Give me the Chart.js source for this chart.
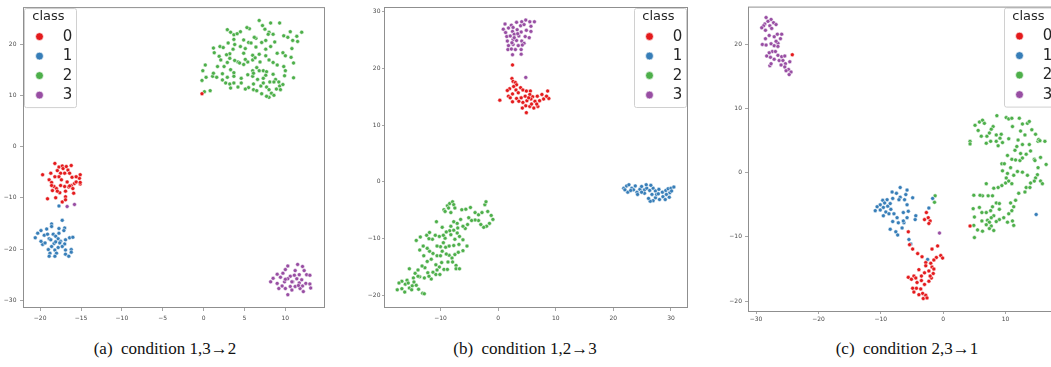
<!DOCTYPE html>
<html>
<head>
<meta charset="utf-8">
<script src="https://cdn.jsdelivr.net/npm/chart.js@4.4.1/dist/chart.umd.min.js"></script>
<style>
  html, body { margin: 0; padding: 0; background: #fff; }
  body { position: relative; width: 1051px; height: 367px; overflow: hidden; }
  canvas { position: absolute; top: 0; }
  #ca { left: 0px; }
  #cb { left: 356px; }
  #cc { left: 716px; }
  .cap { position: absolute; top: 339px; transform: translateX(-50%); white-space: pre;
         font-family: "Liberation Serif", "Times New Roman", serif; font-size: 17px; color: #111; }
</style>
</head>
<body>
<canvas id="ca" width="330" height="330"></canvas>
<canvas id="cb" width="340" height="330"></canvas>
<canvas id="cc" width="350" height="330"></canvas>
<div class="cap" style="left:165px">(a)  condition 1,3→2</div>
<div class="cap" style="left:525px">(b)  condition 1,2→3</div>
<div class="cap" style="left:907px">(c)  condition 2,3→1</div>
<script>
const classes = ['0', '1', '2', '3'];
const colors = ['#e41a1c', '#377eb8', '#4daf4a', '#984ea3'];

// (a) condition 1,3 -> 2
const aXTicks = [-20, -15, -10, -5, 0, 5, 10];
const aYTicks = [-30, -20, -10, 0, 10, 20];
const aClass0 = [[-18.2,-3.3],[-17.7,-4.0],[-17.3,-3.8],[-17.9,-4.7],[-17.2,-4.3],[-16.8,-3.9],[-16.2,-3.7],[-16.6,-4.6],[-16.4,-5.2],[-17.5,-5.2],[-17.0,-5.2],[-17.7,-5.9],[-18.7,-5.2],[-19.7,-5.5],[-18.9,-6.5],[-18.6,-7.0],[-18.3,-7.8],[-18.0,-8.2],[-17.5,-7.6],[-17.0,-7.8],[-16.5,-7.9],[-16.2,-7.6],[-15.8,-7.2],[-15.1,-5.5],[-15.2,-6.2],[-15.6,-6.9],[-15.1,-7.3],[-16.7,-6.9],[-17.6,-9.0],[-16.9,-8.7],[-18.5,-8.6],[-17.9,-8.7],[-19.1,-10.2],[-18.1,-10.0],[-17.3,-10.8],[-16.9,-9.8],[-16.9,-10.4],[-15.9,-9.1],[-16.4,-7.7],[-15.1,-7.0],[-18.6,-7.6],[-18.2,-5.9],[-17.4,-6.5],[-16.1,-6.0],[-15.6,-5.9],[-16.0,-8.2],[-0.2,10.3]];
const aClass1 = [[-17.7,-11.6],[-17.3,-14.4],[-18.6,-15.1],[-18.6,-15.6],[-17.7,-16.0],[-17.0,-15.9],[-17.1,-16.4],[-19.9,-16.4],[-20.3,-16.9],[-20.6,-17.8],[-19.5,-17.3],[-19.1,-17.1],[-18.4,-17.1],[-18.1,-17.5],[-17.7,-16.9],[-18.9,-18.0],[-18.7,-18.2],[-17.8,-18.0],[-17.5,-18.5],[-16.4,-17.8],[-16.0,-17.7],[-19.6,-18.9],[-19.7,-19.1],[-19.4,-18.8],[-18.3,-18.9],[-18.1,-18.6],[-17.6,-18.8],[-16.9,-18.2],[-17.0,-19.0],[-19.0,-20.1],[-18.8,-20.8],[-18.9,-21.4],[-18.2,-20.2],[-18.0,-20.8],[-18.2,-21.4],[-16.9,-20.2],[-16.9,-21.0],[-16.5,-21.4],[-16.2,-20.1],[-16.2,-20.6],[-19.9,-18.5],[-19.2,-16.1],[-17.3,-19.5],[-18.6,-19.5],[-17.8,-19.7]];
const aClass2 = [[6.8,24.6],[8.2,24.1],[9.3,24.1],[7.2,23.6],[2.9,22.8],[3.3,22.3],[5.6,23.0],[4.5,22.4],[5.3,23.2],[3.7,21.8],[4.1,22.0],[10.6,22.4],[12.0,22.3],[11.4,21.5],[9.8,21.6],[10.3,21.3],[10.9,20.7],[11.5,20.5],[8.0,22.3],[8.5,21.9],[7.6,20.7],[8.7,20.4],[3.7,20.9],[4.9,20.8],[5.5,20.3],[6.4,19.4],[5.8,20.2],[1.2,19.2],[2.0,19.5],[2.4,19.3],[3.0,20.2],[3.2,18.1],[2.8,17.9],[4.5,19.5],[5.1,19.1],[3.8,19.9],[7.6,19.0],[9.0,18.2],[9.7,18.3],[10.8,19.1],[1.3,18.3],[1.9,17.6],[3.2,17.2],[4.2,16.5],[4.4,16.3],[5.4,16.5],[5.1,17.0],[2.1,16.9],[2.9,16.4],[1.7,15.6],[2.5,15.6],[3.3,15.0],[0.2,15.9],[-0.1,14.8],[0.3,13.5],[-0.2,12.9],[1.1,13.7],[1.6,13.5],[2.3,13.0],[2.7,12.4],[3.2,12.2],[3.7,12.4],[3.3,11.4],[4.6,13.3],[5.4,14.0],[6.5,15.4],[6.8,14.8],[7.3,14.8],[7.7,14.6],[7.6,13.9],[8.5,14.1],[8.1,12.6],[8.8,13.1],[9.8,15.6],[10.0,14.8],[9.9,13.8],[11.0,13.4],[9.3,11.8],[9.7,12.1],[9.4,11.1],[8.9,11.2],[6.0,13.7],[6.6,13.1],[7.3,13.3],[6.1,12.2],[5.5,11.5],[5.1,11.2],[6.1,11.1],[7.0,11.8],[7.7,11.6],[8.0,11.1],[8.3,10.4],[8.6,10.0],[8.0,9.6],[7.7,9.8],[7.1,10.3],[6.5,10.9],[4.6,12.4],[4.2,11.6],[0.8,10.9],[0.1,10.7],[3.7,14.4],[4.9,16.0],[6.0,16.9],[6.9,16.5],[8.5,16.4],[9.0,15.9],[10.0,17.7],[10.7,17.4],[11.0,16.3],[6.4,21.1],[7.1,20.3],[4.9,18.2],[6.0,17.8],[6.3,17.3],[7.6,17.7],[8.0,16.9],[6.8,18.0],[1.2,14.3],[2.3,14.2],[2.9,13.5],[3.7,13.7],[6.0,14.8],[6.1,14.3],[7.3,12.4],[8.6,12.6],[9.2,12.6],[3.8,16.8],[6.2,21.3],[7.5,22.9],[7.9,21.9],[3.6,19.0],[8.2,19.5]];
const aClass3 = [[-16.7,-11.7],[-15.8,-11.3],[11.5,-23.0],[10.3,-23.3],[12.1,-23.4],[12.3,-24.2],[10.0,-24.0],[9.0,-24.9],[9.7,-24.7],[11.2,-24.2],[11.7,-25.0],[12.6,-25.0],[13.0,-25.1],[10.6,-25.3],[9.4,-25.5],[10.3,-25.8],[11.4,-25.8],[12.0,-26.0],[8.2,-26.4],[9.0,-26.7],[9.9,-26.4],[10.9,-26.4],[11.7,-26.6],[12.5,-26.7],[9.6,-27.2],[10.6,-27.3],[11.2,-27.3],[12.1,-27.2],[13.0,-26.8],[9.2,-27.7],[10.0,-27.7],[10.8,-28.0],[11.8,-27.7],[12.2,-28.3],[10.3,-28.9],[13.1,-27.6],[8.5,-25.7],[10.8,-26.4],[11.6,-27.1],[10.0,-25.9],[11.1,-25.1]];

// (b) condition 1,2 -> 3
const bXTicks = [-10, 0, 10, 20, 30];
const bYTicks = [-20, -10, 0, 10, 20, 30];
const bClass0 = [[2.5,20.6],[2.4,18.2],[2.6,17.7],[3.0,17.5],[3.2,17.1],[2.7,16.8],[2.0,16.4],[3.1,16.2],[3.9,16.6],[4.3,16.2],[4.9,16.0],[5.6,16.0],[3.5,15.7],[2.5,15.5],[1.8,15.1],[0.3,14.4],[2.1,14.8],[3.2,14.7],[4.0,14.8],[4.7,15.1],[5.5,15.4],[6.0,15.0],[6.8,15.1],[7.6,15.4],[8.6,16.0],[8.8,14.7],[7.9,14.6],[7.2,14.3],[6.4,14.2],[5.7,14.6],[5.0,14.3],[4.3,14.0],[3.6,14.2],[2.5,14.1],[4.8,13.4],[5.5,13.3],[6.2,13.0],[6.9,13.3],[4.9,12.2],[4.2,13.0],[5.8,13.7],[6.7,13.7],[8.4,15.1],[1.6,16.1],[5.3,14.8]];
const bClass1 = [[21.8,-1.1],[22.3,-0.7],[22.7,-0.5],[23.2,-1.1],[23.5,-1.4],[22.5,-1.8],[22.0,-1.4],[24.1,-1.8],[24.6,-1.3],[24.9,-0.8],[25.4,-1.4],[25.8,-1.1],[26.3,-1.5],[26.9,-1.1],[27.3,-1.6],[27.9,-1.3],[28.5,-1.8],[29.1,-1.5],[29.5,-1.2],[30.0,-1.1],[30.5,-0.9],[29.8,-1.9],[29.2,-2.2],[28.6,-2.6],[28.0,-3.1],[27.3,-2.8],[26.9,-3.3],[26.4,-3.4],[26.1,-2.9],[26.7,-2.2],[27.5,-2.2],[25.4,-2.0],[24.9,-1.8],[24.2,-2.2],[23.0,-1.5],[23.8,-0.7],[25.7,-0.5],[26.5,-0.6],[29.7,-2.7],[29.0,-3.1],[30.1,-1.6],[27.8,-2.1]];
const bClass2 = [[-9.4,-4.9],[-8.8,-4.2],[-8.4,-3.8],[-7.9,-3.5],[-7.7,-4.0],[-8.6,-4.6],[-9.2,-5.2],[-7.5,-4.6],[-8.2,-5.4],[-6.3,-4.9],[-5.6,-4.8],[-4.8,-4.5],[-4.0,-5.4],[-3.4,-5.8],[-2.8,-5.4],[-2.3,-4.0],[-2.1,-3.5],[-1.8,-5.2],[-1.2,-5.9],[-0.9,-6.6],[-1.5,-7.3],[-2.0,-7.8],[-2.5,-8.0],[-3.0,-7.5],[-3.4,-6.8],[-4.0,-6.7],[-4.6,-6.8],[-5.1,-6.3],[-5.3,-7.5],[-5.7,-8.2],[-6.5,-6.6],[-7.1,-7.3],[-7.7,-7.0],[-8.2,-7.8],[-8.4,-8.6],[-7.7,-8.5],[-7.1,-9.0],[-6.7,-9.6],[-7.5,-10.1],[-8.2,-9.3],[-9.0,-8.8],[-9.7,-8.0],[-10.7,-7.0],[-10.2,-9.6],[-10.9,-9.4],[-11.4,-10.1],[-9.2,-9.9],[-9.5,-10.7],[-10.0,-11.4],[-9.1,-11.5],[-8.5,-11.3],[-7.7,-11.2],[-6.8,-11.0],[-6.1,-10.2],[-5.4,-11.3],[-6.1,-12.1],[-6.9,-12.4],[-7.5,-12.8],[-8.0,-13.4],[-8.5,-12.9],[-8.7,-14.1],[-7.9,-14.1],[-7.3,-14.7],[-7.3,-15.3],[-6.7,-15.3],[-9.0,-12.7],[-9.7,-12.2],[-10.6,-13.0],[-11.3,-12.6],[-11.9,-12.2],[-12.3,-11.7],[-13.0,-11.3],[-13.6,-12.0],[-14.2,-10.3],[-13.5,-9.7],[-12.4,-9.4],[-11.9,-8.9],[-12.0,-10.0],[-12.9,-13.0],[-12.3,-14.0],[-11.6,-13.6],[-10.8,-14.6],[-10.2,-15.0],[-9.8,-14.2],[-10.6,-15.5],[-11.3,-15.9],[-12.2,-16.0],[-12.7,-15.1],[-13.2,-14.8],[-13.9,-15.5],[-13.6,-16.7],[-12.8,-16.9],[-14.4,-16.1],[-14.7,-16.9],[-15.4,-15.3],[-15.8,-17.3],[-16.1,-18.0],[-16.7,-17.5],[-17.2,-17.8],[-17.5,-19.0],[-16.7,-18.8],[-16.2,-19.4],[-15.4,-18.7],[-14.9,-18.3],[-14.2,-18.2],[-13.8,-18.9],[-15.0,-19.0],[-15.6,-17.8],[-14.6,-17.6],[-13.1,-19.6],[-12.8,-19.7],[-13.9,-16.6],[-11.6,-17.1],[-10.8,-16.3],[-10.1,-16.3],[-9.4,-15.4],[-8.8,-15.4],[-12.0,-16.6],[-10.0,-13.0],[-10.6,-11.3],[-9.5,-9.4],[-7.0,-8.1],[-6.1,-7.8]];
const bClass3 = [[1.2,27.8],[2.3,27.6],[3.2,28.1],[4.1,28.2],[4.8,28.5],[5.5,28.2],[6.3,28.2],[0.9,26.9],[1.8,27.1],[2.6,27.2],[3.9,27.5],[4.5,27.7],[5.7,27.4],[1.3,26.3],[2.5,26.5],[3.3,26.8],[4.0,26.4],[4.9,26.7],[5.7,26.5],[1.5,25.6],[2.1,25.7],[2.8,26.0],[3.6,25.7],[4.7,25.6],[5.4,25.4],[1.6,24.8],[2.6,25.1],[3.2,24.9],[4.1,24.8],[4.5,24.4],[1.8,24.0],[2.6,24.2],[3.5,24.0],[4.2,24.1],[1.7,23.3],[2.3,23.4],[3.0,23.3],[4.0,23.3],[2.5,22.4],[4.0,22.5],[2.8,25.4],[3.4,26.1],[2.4,24.5],[4.8,18.4]];

// (c) condition 2,3 -> 1
const cXTicks = [-30, -20, -10, 0, 10];
const cYTicks = [-20, -10, 0, 10, 20];
const cClass0 = [[-24.2,18.4],[4.3,-8.3],[-2.7,-6.2],[-2.4,-7.0],[-3.0,-7.3],[-2.1,-7.5],[-2.3,-7.9],[-5.6,-9.2],[-5.4,-11.2],[-4.9,-11.9],[-4.1,-12.6],[-3.4,-13.1],[-1.8,-11.9],[-0.9,-11.4],[-0.4,-12.9],[-0.1,-13.3],[-1.1,-13.2],[-1.5,-13.6],[-2.0,-14.1],[-2.8,-14.0],[-1.8,-14.7],[-1.5,-15.0],[-2.3,-15.3],[-2.8,-14.5],[-3.0,-15.6],[-3.5,-16.1],[-3.9,-15.1],[-4.7,-16.1],[-4.4,-16.4],[-5.6,-16.3],[-5.1,-16.6],[-4.2,-17.1],[-4.3,-18.0],[-3.6,-18.1],[-3.3,-18.8],[-3.9,-19.0],[-3.2,-19.6],[-2.8,-19.1],[-2.6,-19.5],[-3.0,-17.4],[-2.3,-16.9],[-1.9,-16.4],[-1.6,-15.7],[-2.1,-16.1],[-3.5,-16.8],[-4.9,-18.0],[-4.7,-18.6]];
const cClass1 = [[-6.9,-2.3],[-5.8,-2.7],[-8.2,-3.0],[-7.5,-3.2],[-6.0,-3.4],[-6.9,-3.8],[-4.9,-3.9],[-9.7,-4.3],[-9.0,-4.2],[-8.1,-4.0],[-7.1,-4.2],[-6.2,-4.2],[-5.8,-5.0],[-9.4,-4.7],[-10.1,-5.0],[-10.6,-5.3],[-10.9,-5.9],[-9.6,-5.4],[-8.9,-5.2],[-8.5,-4.8],[-10.1,-5.8],[-9.2,-6.1],[-9.6,-6.7],[-8.7,-6.4],[-7.9,-6.4],[-6.4,-6.2],[-5.6,-6.0],[-4.4,-6.7],[-4.5,-7.3],[-7.4,-7.0],[-8.1,-7.6],[-7.2,-7.8],[-6.3,-7.8],[-6.6,-8.6],[-8.5,-8.8],[-7.6,-9.2],[-7.3,-9.7],[-5.8,-7.0],[-2.3,-5.5],[-1.7,-4.0],[-8.4,-5.7],[-6.4,-7.5],[-5.5,-10.4],[-5.2,-11.1],[-2.5,-13.5],[14.9,-6.5]];
const cClass2 = [[-1.3,-3.6],[-1.4,-4.6],[4.3,4.9],[4.3,4.5],[5.1,7.4],[5.8,7.9],[6.3,8.2],[6.6,7.7],[5.6,6.6],[6.1,5.7],[7.0,5.7],[7.4,6.2],[8.0,7.2],[8.6,8.9],[7.7,6.8],[8.5,5.9],[9.3,6.0],[9.1,5.4],[8.5,4.9],[8.8,4.2],[9.5,4.7],[10.1,8.6],[10.5,8.4],[11.0,8.5],[12.2,8.5],[12.7,7.6],[13.5,7.7],[13.8,8.0],[12.4,6.5],[13.1,5.9],[14.2,6.7],[14.8,6.0],[15.2,4.9],[16.3,4.9],[15.3,5.2],[13.8,4.4],[12.7,4.4],[11.8,4.1],[11.5,3.5],[12.4,3.0],[13.3,2.9],[14.0,3.4],[14.6,2.1],[15.6,2.4],[15.2,0.8],[15.1,-0.3],[14.8,-0.8],[14.6,-1.3],[14.0,-1.6],[15.6,-1.3],[15.9,-1.7],[13.5,-0.4],[12.7,0.1],[11.9,0.2],[11.3,-0.4],[10.3,-0.1],[9.4,1.4],[9.8,1.4],[11.0,2.1],[11.6,2.0],[12.3,1.9],[12.7,2.3],[10.8,0.8],[10.1,-0.8],[9.4,-2.0],[10.0,-1.6],[10.5,-1.3],[11.0,-1.7],[13.1,-3.0],[13.3,-2.3],[12.1,-3.2],[11.6,-4.3],[10.8,-4.7],[11.3,-5.3],[11.0,-5.9],[10.5,-6.4],[10.3,-7.7],[11.1,-7.5],[11.3,-8.2],[9.7,-7.0],[9.0,-7.3],[8.5,-7.6],[7.7,-8.3],[8.1,-9.0],[7.4,-8.7],[6.3,-9.1],[5.5,-8.9],[4.9,-8.2],[5.0,-6.9],[4.8,-5.6],[5.8,-5.4],[6.2,-6.2],[6.9,-6.2],[7.6,-5.9],[7.9,-5.3],[8.5,-4.7],[9.0,-4.8],[9.0,-5.7],[8.1,-6.7],[7.1,-7.4],[6.2,-7.5],[7.2,-3.6],[7.9,-3.6],[8.1,-2.4],[8.8,-2.3],[5.0,-10.1],[6.9,-1.7],[6.3,-3.6],[5.9,-3.5],[4.9,-3.5],[7.7,-7.0],[7.4,-7.7],[6.9,-8.1],[9.5,0.3],[10.3,2.7],[11.1,7.2],[12.0,5.1],[10.5,5.3],[13.9,-2.3],[14.7,1.9],[15.5,5.0],[7.6,4.9],[6.9,4.6],[16.5,1.3]];
const cClass3 = [[-27.6,23.9],[-28.1,23.6],[-28.6,23.2],[-28.8,22.9],[-27.2,23.4],[-27.8,22.9],[-26.8,23.1],[-28.5,22.2],[-27.5,22.5],[-26.6,21.6],[-25.9,21.6],[-26.1,20.9],[-27.1,21.2],[-27.9,21.4],[-28.5,20.9],[-29.0,20.0],[-28.4,19.9],[-27.6,20.1],[-27.1,19.8],[-26.5,20.2],[-27.4,18.9],[-27.9,18.7],[-28.3,18.2],[-27.7,18.0],[-26.9,18.9],[-26.5,18.3],[-25.9,18.1],[-25.4,18.2],[-26.3,17.5],[-25.7,17.5],[-25.3,17.0],[-24.6,17.3],[-26.0,16.8],[-25.4,16.5],[-24.8,16.1],[-24.4,15.7],[-24.7,15.3],[-25.2,15.9],[-27.8,16.7],[-27.6,17.0],[-27.1,17.7],[-26.5,19.7],[-26.8,20.5],[-29.1,22.6],[-28.4,24.2],[-0.6,-9.4]];

const minus = v => String(v).replace('-', '\u2212');

// frame round the plot area, like matplotlib spines
const frame = {
  id: 'frame',
  afterDraw(chart) {
    const { ctx, chartArea: a } = chart;
    ctx.save();
    ctx.strokeStyle = '#8f8f8f';
    ctx.lineWidth = 1;
    ctx.strokeRect(a.left + 0.5, a.top + 0.5, a.right - a.left - 1, a.bottom - a.top - 1);
    ctx.restore();
  }
};

const legendBox = {
  id: 'legendBox',
  afterDatasetsDraw(chart, args, opts) {
    const { ctx, chartArea: a } = chart;
    const w = 52, h = 99;
    const x = opts.side === 'left' ? a.left + 1 : a.right - w - 2;
    const y = a.top + 1;
    ctx.save();
    ctx.fillStyle = 'rgba(255,255,255,0.85)';
    ctx.strokeStyle = '#d0d0d0';
    ctx.lineWidth = 1;
    ctx.beginPath();
    ctx.roundRect(x + 0.5, y + 0.5, w, h, 2);
    ctx.fill();
    ctx.stroke();
    ctx.fillStyle = '#262626';
    ctx.textAlign = 'center';
    ctx.textBaseline = 'middle';
    ctx.font = '13px "DejaVu Sans"';
    ctx.fillText('class', x + 24.5, y + 9);
    ctx.font = '15px "DejaVu Sans"';
    chart.data.datasets.forEach((ds, i) => {
      const cy = y + 28.5 + i * 19.5;
      ctx.beginPath();
      ctx.arc(x + 15.5, cy, 3.9, 0, Math.PI * 2);
      ctx.fillStyle = ds.backgroundColor;
      ctx.fill();
      ctx.strokeStyle = '#fff';
      ctx.lineWidth = 0.6;
      ctx.stroke();
      ctx.fillStyle = '#262626';
      ctx.fillText(ds.label, x + 43.5, cy + 0.5);
    });
    ctx.restore();
  }
};

function axis(ticks, min, max, pos, size, tickLen, pad) {
  const horiz = pos === 'bottom';
  return {
    type: 'linear', position: pos, min: min, max: max,
    afterBuildTicks: s => { s.ticks = ticks.map(v => ({ value: v })); },
    afterFit: s => { if (horiz) s.height = size; else s.width = size; },
    grid: { drawOnChartArea: false, drawTicks: true, tickLength: tickLen, color: '#8f8f8f', lineWidth: 0.8 },
    border: { display: false },
    ticks: {
      autoSkip: false, maxRotation: 0, padding: pad, color: '#4a4a4a',
      font: { family: 'DejaVu Sans', size: 6 },
      callback: v => minus(v)
    }
  };
}

function panel(id, sets, x, y, pad, side) {
  new Chart(document.getElementById(id), {
    type: 'scatter',
    data: {
      datasets: sets.map((pts, i) => ({
        label: classes[i],
        data: pts.map(p => ({ x: p[0], y: p[1] })),
        backgroundColor: colors[i],
        borderColor: '#ffffff',
        borderWidth: 0.5,
        pointRadius: 2
      }))
    },
    options: {
      responsive: false,
      animation: false,
      events: [],
      layout: { padding: pad },
      scales: { x: x, y: y },
      plugins: {
        legend: { display: false },
        tooltip: { enabled: false },
        legendBox: { side: side }
      }
    },
    plugins: [frame, legendBox]
  });
}

panel('ca', [aClass0, aClass1, aClass2, aClass3],
  axis(aXTicks, -22.1, 14.85, 'bottom', 22, 3, 4),
  axis(aYTicks, -31.5, 27.2, 'left', 23, 3, 3.5),
  { top: 7, right: 5, left: 0, bottom: 0 }, 'left');

panel('cb', [bClass0, bClass1, bClass2, bClass3],
  axis(bXTicks, -19.8, 32.95, 'bottom', 22, 3, 4),
  axis(bYTicks, -22.2, 30.8, 'left', 28, 2, 1.5),
  { top: 7, right: 8, left: 0, bottom: 0 }, 'right');

panel('cc', [cClass0, cClass1, cClass2, cClass3],
  axis(cXTicks, -31.3, 18.4, 'bottom', 18, 2, 1.5),
  axis(cYTicks, -21.7, 25.9, 'left', 32, 3, 3),
  { top: 4, right: 8, left: 0, bottom: 0 }, 'right');
</script>
</body>
</html>
